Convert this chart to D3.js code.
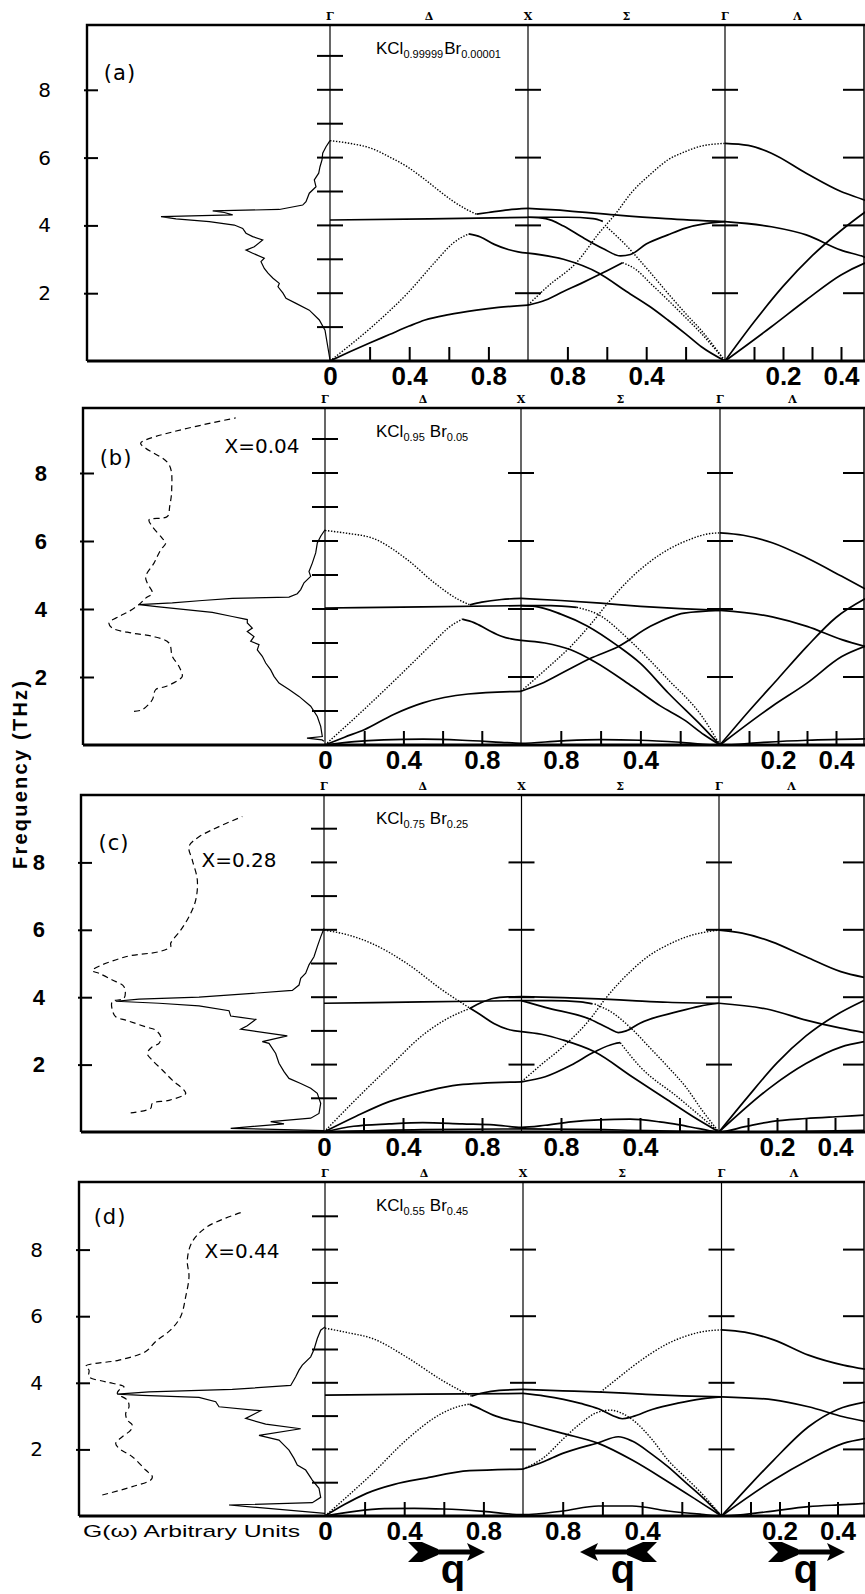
<!DOCTYPE html>
<html>
<head>
<meta charset="utf-8">
<script src="https://cdn.jsdelivr.net/npm/d3@7"></script>
<style>
  body { margin: 0; background: #fff; }
  svg { display: block; }
</style>
</head>
<body>
<svg id="fig" width="865" height="1594"></svg>
<script>
// ---------------------------------------------------------------------------
// Phonon dispersion and density of states G(ω) of KCl(1-x)Br(x) mixed crystals.
// Wave-vector path coordinate s:  Δ (Γ→X): s = ξ ;  Σ (X→Γ): s = 2 − ξ ;  Λ (Γ→L): s = 2 + ξ
// Branch points are [s, frequency in THz]; DOS points are [frequency in THz, G (arb. units)].
// ---------------------------------------------------------------------------

const panelTags = ["(a)", "(b)", "(c)", "(d)"];
const hostFraction = ["0.99999", "0.95", "0.75", "0.55"];
const guestFraction = ["0.00001", "0.05", "0.25", "0.45"];
const concentration = [null, "0.04", "0.28", "0.44"];

const pointLabels = ["Γ", "Δ", "X", "Σ", "Γ", "Λ"];
const pointLabelS = [0, 0.5, 1, 1.5, 2, 2.25];

const freqTicks = [2, 4, 6, 8];
const gammaLineTicks = [1, 2, 3, 4, 5, 6, 7, 8, 9];
const deltaTicks = [0.2, 0.4, 0.6, 0.8];
const sigmaTicks = [0.8, 0.6, 0.4, 0.2];
const lambdaTicks = [0.1, 0.2, 0.3, 0.4];
const deltaLabels = [0, 0.4, 0.8];
const sigmaLabels = [0.8, 0.4];
const lambdaLabels = [0.2, 0.4];

// ---- (a) KCl0.99999 Br0.00001 ----
const solidA = [
  [[0,4.16],[0.5,4.19],[1,4.24]],
  [[0.74,4.33],[0.8,4.38],[0.9,4.46],[1,4.5]],
  [[0.7,3.75],[0.76,3.66],[0.83,3.44],[0.9,3.29],[0.95,3.22],[1,3.18]],
  [[0,0],[0.1,0.27],[0.2,0.53],[0.3,0.78],[0.4,1.03],[0.48,1.21],[0.6,1.37],[0.74,1.5],[0.85,1.58],[1,1.65]],
  [[1,4.5],[1.2,4.43],[1.44,4.31],[1.7,4.2],[2,4.11]],
  [[1,4.24],[1.2,4.24],[1.33,4.2],[1.38,4.12]],
  [[1,4.24],[1.09,4.2],[1.18,3.98],[1.27,3.67],[1.38,3.32],[1.47,3.1],[1.52,3.14],[1.6,3.45],[1.71,3.72],[1.8,3.92],[1.9,4.05],[2,4.11]],
  [[1,1.65],[1.09,1.8],[1.18,2.05],[1.27,2.29],[1.38,2.6],[1.48,2.9]],
  [[1,3.18],[1.18,3.0],[1.36,2.59],[1.5,2.05],[1.62,1.6],[1.71,1.21],[1.8,0.8],[1.88,0.42],[2,0]],
  [[2,6.42],[2.08,6.36],[2.16,6.13],[2.28,5.54],[2.4,5.0],[2.48,4.75],[2.5,4.68]],
  [[2,4.11],[2.16,3.96],[2.28,3.72],[2.4,3.27],[2.48,3.07],[2.5,3.0]],
  [[2,0],[2.1,1.15],[2.2,2.2],[2.3,3.1],[2.4,3.85],[2.5,4.5]],
  [[2,0],[2.16,1.01],[2.28,1.8],[2.4,2.54],[2.48,2.88],[2.5,2.95]]
];
const dottedA = [
  [[0,6.5],[0.1,6.42],[0.21,6.27],[0.3,6.02],[0.39,5.73],[0.48,5.35],[0.56,4.98],[0.62,4.72],[0.69,4.47],[0.74,4.33]],
  [[0,0],[0.21,1.0],[0.39,1.99],[0.54,2.98],[0.62,3.47],[0.7,3.75]],
  [[1,1.65],[1.1,2.2],[1.25,2.93],[1.36,3.77],[1.44,4.31],[1.53,5.0],[1.62,5.5],[1.71,5.93],[1.8,6.18],[1.88,6.34],[2,6.42]],
  [[1.4,3.95],[1.5,3.4],[1.6,2.75],[1.71,2.0],[1.8,1.4],[1.88,0.9],[2,0]],
  [[1.48,2.9],[1.55,2.69],[1.62,2.3],[1.71,1.8],[1.8,1.28],[1.88,0.81],[2,0]]
];
const dosA = [
  [0.03,0],[0.91,0.5],[1.21,1.07],[1.5,2.07],[1.7,3.4],[1.85,4.4],[2.0,4.7],[2.19,5.2],[2.29,5.07],
  [2.44,5.7],[2.59,6.2],[2.73,6.57],[2.93,6.9],[3.03,6.57],[3.18,7.73],[3.27,8.4],[3.37,7.57],[3.57,6.73],
  [3.67,7.73],[3.77,8.4],[3.91,8.73],[4.01,9.57],[4.11,12.07],[4.19,15.4],[4.26,16.9],[4.31,9.73],
  [4.38,10.57],[4.43,11.73],[4.47,5.07],[4.6,2.73],[4.7,2.4],[4.95,2.07],[5.14,1.4],[5.34,1.57],
  [5.54,1.13],[5.73,1.0],[5.93,0.8],[6.13,0.73],[6.32,0.4],[6.5,0]
];

// ---- (b) KCl0.95 Br0.05 ----
const solidB = [
  [[0,4.03],[0.5,4.06],[1,4.1]],
  [[0.74,4.12],[0.8,4.2],[0.9,4.28],[1,4.31]],
  [[0.7,3.7],[0.76,3.6],[0.83,3.39],[0.9,3.2],[0.95,3.12],[1,3.08]],
  [[0,0],[0.1,0.23],[0.2,0.45],[0.35,0.9],[0.5,1.24],[0.73,1.5],[1,1.58]],
  [[0,0],[0.15,0.1],[0.3,0.15],[0.5,0.17],[0.7,0.14],[0.9,0.08],[1,0.05],[1.2,0.12],[1.4,0.16],[1.6,0.14],[1.8,0.08],[2,0],[2.15,0.08],[2.3,0.14],[2.5,0.18]],
  [[1,4.31],[1.2,4.25],[1.4,4.17],[1.6,4.08],[1.8,4.01],[2,3.96]],
  [[1,4.1],[1.07,4.08],[1.2,3.85],[1.33,3.51],[1.49,2.9],[1.6,2.4],[1.74,1.53],[1.91,0.55],[2,0]],
  [[1,4.1],[1.15,4.1],[1.28,4.05]],
  [[1,1.58],[1.1,1.8],[1.22,2.16],[1.35,2.55],[1.49,2.9],[1.65,3.49],[1.82,3.88],[2,3.96]],
  [[1,3.08],[1.12,3.0],[1.25,2.8],[1.37,2.45],[1.56,1.72],[1.7,1.15],[1.82,0.74],[1.92,0.3],[2,0]],
  [[2,6.24],[2.08,6.17],[2.18,5.95],[2.3,5.5],[2.42,4.96],[2.5,4.59]],
  [[2,3.96],[2.18,3.77],[2.3,3.49],[2.42,3.1],[2.5,2.9]],
  [[2,0],[2.1,1.0],[2.2,1.95],[2.3,2.9],[2.4,3.75],[2.5,4.3]],
  [[2,0],[2.18,1.14],[2.3,1.82],[2.42,2.6],[2.5,2.9]]
];
const dottedB = [
  [[0,6.31],[0.12,6.22],[0.24,6.09],[0.42,5.45],[0.56,4.76],[0.68,4.28],[0.74,4.12]],
  [[0,0],[0.2,1.05],[0.4,2.15],[0.55,3.0],[0.63,3.45],[0.7,3.7]],
  [[1,1.58],[1.12,2.2],[1.25,2.9],[1.35,3.55],[1.44,4.2],[1.55,4.9],[1.65,5.4],[1.74,5.75],[1.85,6.05],[1.93,6.2],[2,6.24]],
  [[1.28,4.05],[1.39,3.83],[1.56,3.0],[1.74,1.92],[1.91,0.84],[2,0]]
];
const dosB = [
  [0.11,0.1],[0.15,0.3],[0.2,1.8],[0.25,0.27],[0.55,0.43],[0.84,0.77],[1.14,1.43],[1.43,2.6],[1.63,3.6],
  [1.82,4.6],[2.02,5.1],[2.21,5.43],[2.41,5.93],[2.61,6.27],[2.8,6.77],[2.95,6.6],[3.05,7.43],[3.19,7.1],
  [3.34,7.77],[3.44,7.27],[3.59,7.77],[3.69,7.77],[3.78,9.27],[3.9,11.27],[3.98,13.93],[4.06,16.6],
  [4.13,18.6],[4.18,15.27],[4.25,12.27],[4.31,9.27],[4.35,3.6],[4.45,2.77],[4.57,2.43],[4.77,2.1],
  [4.96,1.43],[5.1,1.6],[5.35,1.27],[5.65,0.93],[5.94,0.77],[6.14,0.43],[6.33,0]
];
const dosExpB = [
  [0.99,19.1],[1.04,18.27],[1.33,17.27],[1.63,16.93],[1.72,15.93],[1.92,14.6],[2.02,14.27],[2.31,14.6],
  [2.61,15.27],[3.0,15.6],[3.2,17.27],[3.29,19.27],[3.44,21.27],[3.59,21.6],[3.78,20.6],[3.93,19.6],
  [4.13,18.6],[4.32,17.93],[4.47,17.27],[4.76,17.77],[4.96,17.93],[5.35,17.1],[5.74,16.43],[5.94,15.93],
  [6.08,16.27],[6.43,17.27],[6.62,17.6],[6.72,15.77],[7.02,15.53],[7.51,15.33],[8.25,15.6],[8.73,17.93],
  [8.88,18.43],[9.62,8.93]
];

// ---- (c) KCl0.75 Br0.25 ----
const solidC = [
  [[0,3.82],[0.5,3.86],[1,3.9]],
  [[0.74,3.67],[0.8,3.85],[0.86,3.97],[0.93,4.01],[1,4.02]],
  [[0.74,3.67],[0.8,3.45],[0.86,3.22],[0.93,3.05],[1,2.98]],
  [[0,0],[0.16,0.46],[0.33,0.9],[0.51,1.2],[0.68,1.4],[1,1.49]],
  [[0,0],[0.15,0.17],[0.33,0.24],[0.5,0.28],[0.7,0.24],[0.86,0.21],[1,0.14],[1.12,0.2],[1.25,0.3],[1.39,0.36],[1.55,0.38],[1.7,0.3],[1.8,0.21],[1.9,0.1],[2,0],[2.09,0.16],[2.18,0.31],[2.3,0.4],[2.42,0.46],[2.5,0.5]],
  [[0,0],[0.5,0.07],[1,0.09],[1.5,0.06],[2,0],[2.5,0.05]],
  [[1,4.02],[1.21,3.99],[1.39,3.95],[1.56,3.9],[1.74,3.85],[2,3.82]],
  [[1,3.9],[1.15,3.9],[1.3,3.86],[1.36,3.8]],
  [[1,3.9],[1.12,3.7],[1.35,3.34],[1.45,3.05],[1.49,2.95],[1.53,3.0],[1.6,3.23],[1.79,3.57],[1.9,3.73],[2,3.82]],
  [[1,1.49],[1.12,1.64],[1.25,1.98],[1.37,2.38],[1.47,2.62],[1.5,2.65]],
  [[1,2.98],[1.1,2.9],[1.21,2.73],[1.37,2.38],[1.56,1.64],[1.74,0.95],[1.87,0.45],[2,0]],
  [[2,5.99],[2.08,5.9],[2.18,5.65],[2.3,5.2],[2.42,4.76],[2.5,4.59]],
  [[2,3.82],[2.18,3.62],[2.3,3.32],[2.42,3.08],[2.5,2.95]],
  [[2,0],[2.1,1.05],[2.2,2.05],[2.3,2.85],[2.4,3.45],[2.5,3.9]],
  [[2,0],[2.18,1.34],[2.3,2.03],[2.42,2.52],[2.5,2.68]]
];
const dottedC = [
  [[0,5.99],[0.12,5.85],[0.24,5.6],[0.42,5.0],[0.6,4.21],[0.74,3.67]],
  [[0,0],[0.15,0.9],[0.33,1.93],[0.51,2.92],[0.62,3.35],[0.74,3.67]],
  [[1,1.49],[1.1,2.0],[1.21,2.53],[1.35,3.37],[1.42,3.92],[1.56,4.81],[1.65,5.25],[1.74,5.55],[1.85,5.82],[1.92,5.92],[2,5.99]],
  [[1.5,2.65],[1.6,1.94],[1.79,1.04],[1.9,0.5],[2,0]],
  [[1.37,3.8],[1.47,3.5],[1.56,3.05],[1.65,2.5],[1.74,1.94],[1.83,1.35],[1.92,0.6],[2,0]]
];
const dosC = [
  [0.04,0],[0.11,9.33],[0.24,4.0],[0.31,5.33],[0.41,1.33],[0.55,0.5],[0.85,0.33],[1.15,0.67],[1.3,1.33],
  [1.44,2.33],[1.59,3.5],[1.79,4.0],[2.04,4.5],[2.33,4.83],[2.63,5.5],[2.68,6.17],[2.85,3.67],[3.05,8.33],
  [3.15,7.67],[3.34,6.83],[3.4,8.33],[3.44,9.33],[3.6,9.5],[3.74,12.5],[3.82,16.5],[3.88,20.83],
  [3.94,18.5],[4.0,12.5],[4.2,3.17],[4.36,2.5],[4.56,2.33],[4.71,1.83],[4.96,1.5],[5.2,1.0],[5.5,0.67],
  [5.79,0.33],[6.04,0]
];
const dosExpC = [
  [0.57,19.33],[0.7,17.33],[0.85,17.17],[0.94,15.5],[1.14,13.83],[1.24,14.0],[1.54,15.17],[1.84,16.17],
  [2.13,17.17],[2.33,17.67],[2.53,17.17],[2.63,16.5],[2.83,16.33],[3.02,16.83],[3.12,17.83],[3.32,19.83],
  [3.42,20.83],[3.62,21.17],[3.87,21.17],[3.97,20.0],[4.31,20.0],[4.51,21.17],[4.71,22.5],[4.79,23.17],
  [5.2,19.83],[5.35,16.5],[5.5,15.33],[5.6,15.33],[5.99,14.33],[6.39,13.5],[6.88,12.83],[7.48,12.67],
  [8.07,13.17],[8.47,13.5],[8.76,12.5],[9.36,8.17]
];

// ---- (d) KCl0.55 Br0.45 ----
const solidD = [
  [[0,3.63],[0.5,3.66],[1,3.68]],
  [[0.74,3.6],[0.8,3.7],[0.88,3.77],[1,3.8]],
  [[0.73,3.36],[0.79,3.2],[0.85,3.03],[0.92,2.9],[1,2.8]],
  [[0,0],[0.1,0.35],[0.21,0.68],[0.35,0.95],[0.5,1.13],[0.73,1.36],[1,1.41]],
  [[0,0],[0.15,0.14],[0.3,0.22],[0.45,0.23],[0.6,0.21],[0.8,0.14],[1,0.04],[1.2,0.15],[1.38,0.3],[1.55,0.3],[1.73,0.15],[1.9,0.05],[2,0],[2.15,0.12],[2.3,0.28],[2.42,0.34],[2.5,0.38]],
  [[1,3.8],[1.2,3.76],[1.4,3.72],[1.6,3.66],[1.8,3.61],[2,3.58]],
  [[1,3.68],[1.11,3.6],[1.29,3.38],[1.38,3.22],[1.45,3.02],[1.5,2.92],[1.55,2.98],[1.65,3.2],[1.78,3.39],[1.9,3.52],[2,3.58]],
  [[1,1.41],[1.1,1.62],[1.2,1.88],[1.38,2.2],[1.48,2.38],[1.55,2.25],[1.65,1.85],[1.73,1.48],[1.82,1.0],[1.9,0.58],[2,0]],
  [[1,2.8],[1.2,2.48],[1.38,2.18],[1.55,1.68],[1.73,1.03],[1.87,0.5],[2,0]],
  [[2,5.59],[2.08,5.52],[2.18,5.29],[2.3,4.83],[2.42,4.53],[2.5,4.4]],
  [[2,3.58],[2.18,3.49],[2.3,3.28],[2.42,2.98],[2.5,2.83]],
  [[2,0],[2.1,0.95],[2.18,1.68],[2.3,2.68],[2.4,3.2],[2.5,3.43]],
  [[2,0],[2.18,1.08],[2.3,1.68],[2.42,2.18],[2.5,2.33]]
];
const dottedD = [
  [[0,5.64],[0.12,5.5],[0.24,5.33],[0.41,4.78],[0.59,4.08],[0.68,3.78],[0.74,3.6]],
  [[0,0],[0.24,1.28],[0.41,2.28],[0.59,3.08],[0.68,3.3],[0.73,3.36]],
  [[1,1.41],[1.11,1.78],[1.2,2.3],[1.29,2.78],[1.37,3.1],[1.44,3.18],[1.5,3.08],[1.55,2.9],[1.65,2.3],[1.73,1.68],[1.82,1.15],[1.9,0.68],[2,0]],
  [[1.39,3.72],[1.47,4.1],[1.55,4.48],[1.65,4.9],[1.73,5.18],[1.82,5.4],[1.9,5.53],[2,5.59]]
];
const dosD = [
  [0.08,0],[0.33,9.6],[0.4,1.27],[0.56,0.43],[0.83,0.6],[1.08,1.27],[1.38,1.93],[1.53,2.77],[1.73,3.1],
  [1.98,3.6],[2.18,4.27],[2.28,4.6],[2.42,6.6],[2.62,2.43],[2.76,5.93],[2.93,7.93],[3.16,6.43],[3.28,10.6],
  [3.43,10.93],[3.56,12.6],[3.62,18.27],[3.66,20.77],[3.73,17.6],[3.8,9.27],[3.92,3.43],[4.18,2.93],
  [4.38,2.6],[4.53,2.27],[4.78,1.43],[5.0,1.1],[5.33,0.77],[5.58,0.43],[5.68,0]
];
const dosExpD = [
  [0.63,22.27],[0.88,19.27],[1.08,17.43],[1.18,17.27],[1.38,17.93],[1.78,19.27],[2.03,20.6],[2.18,20.93],
  [2.38,20.27],[2.58,19.43],[2.73,19.27],[2.88,19.77],[3.08,19.93],[3.28,19.6],[3.48,19.77],[3.68,20.77],
  [3.78,20.6],[3.88,20.1],[4.03,21.93],[4.18,23.6],[4.38,23.6],[4.5,23.93],[4.68,20.6],[4.94,17.93],
  [5.24,16.93],[5.59,15.43],[5.99,14.43],[6.59,13.93],[7.19,13.6],[7.69,13.77],[8.24,13.27],[8.69,11.77],
  [9.11,8.43]
];

const solidSets = [solidA, solidB, solidC, solidD];
const dottedSets = [dottedA, dottedB, dottedC, dottedD];
const dosSets = [dosA, dosB, dosC, dosD];
const dosExpSets = [null, dosExpB, dosExpC, dosExpD];

// ---------------------------------------------------------------------------
// Page layout of the four stacked panels (pixel geometry)
// ---------------------------------------------------------------------------
const W = 865, H = 1594;
const layout = [
  { top: 25,   y0: 361,  k: 33.9, left: 87, g1: 330, xX: 528,   g2: 725,   tagX: 120, tagF: 8.5,  concX: 262, concF: 8.8,  bold: false },
  { top: 408,  y0: 745,  k: 34.0, left: 83, g1: 325, xX: 521,   g2: 720,   tagX: 116, tagF: 8.44, concX: 262, concF: 8.8,  bold: true },
  { top: 795,  y0: 1132, k: 33.7, left: 81, g1: 324, xX: 521.5, g2: 719,   tagX: 114, tagF: 8.58, concX: 239, concF: 8.07, bold: true },
  { top: 1182, y0: 1516, k: 33.3, left: 79, g1: 325, xX: 523,   g2: 721.5, tagX: 110, tagF: 9.0,  concX: 242, concF: 7.97, bold: false }
];
const rightLineX = 864;
const lambdaSpan = 145;   // pixels for ξ = 0 … 0.5 along Λ

const svg = d3.select("#fig");
svg.append("rect").attr("width", W).attr("height", H).attr("fill", "#fff");

const SANS = "'DejaVu Sans', 'Liberation Sans', sans-serif";
const HELV = "'Liberation Sans', Arial, sans-serif";

layout.forEach((p, i) => {
  const g = svg.append("g");
  const y = d3.scaleLinear().domain([0, 10]).range([p.y0, p.y0 - 10 * p.k]);
  const x = d3.scaleLinear().domain([0, 1, 2, 2.5]).range([p.g1, p.xX, p.g2, p.g2 + lambdaSpan]);
  const gx = d3.scaleLinear().domain([0, 10]).range([p.g1, p.g1 - 100]);

  const clipId = "clip" + i;
  svg.append("clipPath").attr("id", clipId)
    .append("rect").attr("x", p.g1).attr("y", p.top)
    .attr("width", rightLineX + 1 - p.g1).attr("height", p.y0 - p.top + 2);

  // --- symmetry lines Γ, X, Γ, L
  [p.g1, p.xX, p.g2, rightLineX].forEach((lx, j) => {
    g.append("line").attr("x1", lx).attr("x2", lx).attr("y1", p.y0).attr("y2", p.top)
      .attr("stroke", "#000").attr("stroke-width", j === 3 ? 1.5 : 1.2);
  });
  // horizontal marks along the symmetry lines
  g.selectAll(null).data(gammaLineTicks).join("line")
    .attr("x1", p.g1 - 13).attr("x2", p.g1 + 13)
    .attr("y1", d => y(d)).attr("y2", d => y(d))
    .attr("stroke", "#000").attr("stroke-width", 2);
  [p.xX, p.g2].forEach(lx => {
    g.selectAll(null).data(freqTicks).join("line")
      .attr("x1", lx - 13).attr("x2", lx + 13)
      .attr("y1", d => y(d)).attr("y2", d => y(d))
      .attr("stroke", "#000").attr("stroke-width", 2);
  });
  g.selectAll(null).data(freqTicks).join("line")
    .attr("x1", rightLineX - 21).attr("x2", rightLineX)
    .attr("y1", d => y(d)).attr("y2", d => y(d))
    .attr("stroke", "#000").attr("stroke-width", 2);

  // --- frame
  g.append("path")
    .attr("d", `M${W},${p.top}H${p.left}V${p.y0}`)
    .attr("fill", "none").attr("stroke", "#000").attr("stroke-width", 2.4);
  g.append("line").attr("x1", p.left).attr("x2", W).attr("y1", p.y0).attr("y2", p.y0)
    .attr("stroke", "#000").attr("stroke-width", 3);

  // --- frequency axis
  const yAxis = d3.axisLeft(y).tickValues(freqTicks).tickSize(-11).tickPadding(36).tickFormat(d3.format("d"));
  const ya = g.append("g").attr("transform", `translate(${p.left},0)`).call(yAxis);
  ya.select(".domain").remove();
  ya.selectAll(".tick line").attr("stroke", "#000").attr("stroke-width", 2).attr("x1", -3);
  ya.selectAll(".tick text")
    .attr("font-family", p.bold ? HELV : SANS)
    .attr("font-weight", p.bold ? "bold" : "normal")
    .attr("font-size", p.bold ? 22 : 20).attr("fill", "#000");

  // --- wave-vector axis: ticks
  const tickS = deltaTicks.concat(sigmaTicks.map(q => 2 - q), lambdaTicks.map(q => 2 + q));
  const xa = g.append("g").attr("transform", `translate(0,${p.y0})`)
    .call(d3.axisBottom(x).tickValues(tickS).tickSize(-14).tickFormat(""));
  xa.select(".domain").remove();
  xa.selectAll(".tick line").attr("stroke", "#000").attr("stroke-width", 2);

  // --- wave-vector axis: labels
  const labelS = deltaLabels.concat(sigmaLabels.map(q => 2 - q), lambdaLabels.map(q => 2 + q));
  const labelText = deltaLabels.concat(sigmaLabels, lambdaLabels).map(String);
  const xl = g.append("g").attr("transform", `translate(0,${p.y0})`)
    .call(d3.axisBottom(x).tickValues(labelS).tickSize(0).tickPadding(6)
      .tickFormat((d, j) => labelText[j]));
  xl.select(".domain").remove();
  xl.selectAll(".tick text")
    .attr("font-family", HELV).attr("font-weight", "bold")
    .attr("font-size", 26).attr("fill", "#000");

  // --- symmetry point names above the frame
  g.selectAll(null).data(pointLabels).join("text")
    .attr("x", (d, j) => x(pointLabelS[j])).attr("y", p.top - 5)
    .attr("text-anchor", "middle")
    .attr("font-family", "'DejaVu Serif', serif").attr("font-weight", "bold")
    .attr("font-size", 11).text(d => d);

  // --- dispersion branches
  const branch = d3.line().x(d => x(d[0])).y(d => y(d[1])).curve(d3.curveMonotoneX);
  const curves = g.append("g").attr("clip-path", `url(#${clipId})`);
  curves.selectAll(".solid").data(solidSets[i]).join("path")
    .attr("class", "solid").attr("d", branch)
    .attr("fill", "none").attr("stroke", "#000").attr("stroke-width", 1.7);
  curves.selectAll(".dotted").data(dottedSets[i]).join("path")
    .attr("class", "dotted").attr("d", branch)
    .attr("fill", "none").attr("stroke", "#000").attr("stroke-width", 1.4)
    .attr("stroke-dasharray", "1.4,1.6");

  // --- density of states G(ω), plotted leftwards from Γ
  const dosLine = d3.line().x(d => gx(d[1])).y(d => y(d[0]));
  g.append("path").datum(dosSets[i]).attr("d", dosLine)
    .attr("fill", "none").attr("stroke", "#000").attr("stroke-width", 1.2)
    .attr("stroke-linejoin", "miter");
  if (dosExpSets[i]) {
    g.append("path").datum(dosExpSets[i]).attr("d", dosLine.curve(d3.curveCatmullRom))
      .attr("fill", "none").attr("stroke", "#000").attr("stroke-width", 1.2)
      .attr("stroke-dasharray", "6,4");
  }

  // --- panel tag and concentration
  g.append("text").attr("x", p.tagX).attr("y", y(p.tagF)).attr("dy", "0.35em")
    .attr("text-anchor", "middle").attr("font-family", SANS).attr("font-size", 21)
    .attr("letter-spacing", 1).text(panelTags[i]);
  if (concentration[i]) {
    g.append("text").attr("x", p.concX).attr("y", y(p.concF)).attr("dy", "0.35em")
      .attr("text-anchor", "middle").attr("font-family", SANS).attr("font-size", 20)
      .text("X=" + concentration[i]);
  }

  // --- composition title
  const t = g.append("text").attr("x", 376).attr("y", p.top + 29)
    .attr("font-family", HELV).attr("font-size", 17);
  t.append("tspan").text("KCl");
  t.append("tspan").attr("font-size", 11).attr("dy", 4).text(hostFraction[i]);
  t.append("tspan").attr("dy", -4).attr("dx", i === 0 ? 1 : 5).text("Br");
  t.append("tspan").attr("font-size", 11).attr("dy", 4).text(guestFraction[i]);
});

// ---------------------------------------------------------------------------
// Shared annotations
// ---------------------------------------------------------------------------
svg.append("text")
  .attr("transform", "translate(20,775) rotate(-90)")
  .attr("text-anchor", "middle").attr("dy", "0.35em")
  .attr("font-family", HELV).attr("font-weight", "bold").attr("font-size", 20)
  .attr("textLength", 188).attr("lengthAdjust", "spacing")
  .text("Frequency (THz)");

svg.append("text").attr("x", 83).attr("y", 1537)
  .attr("font-family", HELV).attr("font-size", 17)
  .attr("textLength", 217).attr("lengthAdjust", "spacingAndGlyphs")
  .text("G(ω) Arbitrary Units");

// direction-of-q arrows below the bottom panel
const arrowSpecs = [
  { cx: 446, dir: 1, qx: 453 },
  { cx: 619, dir: -1, qx: 623 },
  { cx: 806, dir: 1, qx: 806 }
];
const arrowY = 1552;
arrowSpecs.forEach(a => {
  const ag = svg.append("g").attr("transform", `translate(${a.cx},${arrowY}) scale(${a.dir},1)`);
  ag.append("path").attr("d", "M-38,-10L-24,-10L-8,-3L-8,3L-24,10L-38,10L-28,0Z").attr("fill", "#000");
  ag.append("rect").attr("x", -12).attr("y", -2.5).attr("width", 38).attr("height", 5).attr("fill", "#000");
  ag.append("path").attr("d", "M21,-9L39,0L21,9L25,0Z").attr("fill", "#000");
  svg.append("text").attr("x", a.qx).attr("y", 1583).attr("text-anchor", "middle")
    .attr("font-family", HELV).attr("font-weight", "bold").attr("font-size", 40).text("q");
});
</script>
</body>
</html>
